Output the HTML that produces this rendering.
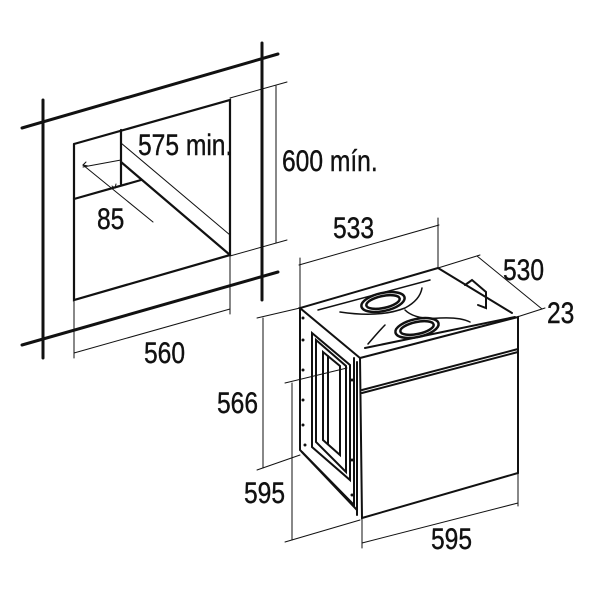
<!DOCTYPE html>
<html><head><meta charset="utf-8"><style>
html,body{margin:0;padding:0;background:#fff}
svg{display:block}
text{font-family:"Liberation Sans",sans-serif;font-size:30px;fill:#111;stroke:#111;stroke-width:0.4}
</style></head><body>
<svg width="600" height="600" viewBox="0 0 600 600" xmlns="http://www.w3.org/2000/svg">
<g stroke="#111" fill="none" stroke-linecap="round">
<g stroke-width="3">
<line x1="22" y1="128" x2="278" y2="54"/>
<line x1="22" y1="345" x2="278" y2="272"/>
<line x1="43" y1="100" x2="43" y2="358"/>
<line x1="262" y1="43" x2="262" y2="300"/>
</g>
<g stroke-width="2.2">
<polyline points="74,144 230,100 230,255 74,300 74,144"/>
<line x1="121" y1="130" x2="121" y2="184"/>
<line x1="74" y1="199" x2="141" y2="180"/>
<line x1="121" y1="162" x2="230" y2="255"/>
</g>
<g stroke-width="1">
<line x1="121" y1="143" x2="230" y2="235"/>
<line x1="83" y1="165" x2="153" y2="222"/>
<line x1="83" y1="167" x2="121" y2="160"/>
<line x1="230" y1="98" x2="287" y2="82"/>
<line x1="230" y1="256" x2="287" y2="240"/>
<line x1="276" y1="86" x2="276" y2="243"/>
<line x1="74" y1="300" x2="74" y2="358"/>
<line x1="230" y1="256" x2="230" y2="314"/>
<line x1="74" y1="353" x2="230" y2="309"/>
<polyline points="86,162 83,165 88,166"/>
<polyline points="112,186 115,188 116,184"/>
</g>
<g stroke-width="1">
<line x1="300" y1="258" x2="300" y2="308"/>
<line x1="438" y1="218" x2="438" y2="268"/>
<line x1="299" y1="265" x2="439" y2="225"/>
<line x1="438" y1="268" x2="480" y2="255"/>
<line x1="477" y1="256" x2="542" y2="309"/>
<line x1="517" y1="317" x2="545" y2="308"/>
<line x1="257" y1="318" x2="300" y2="308"/>
<line x1="263" y1="318" x2="263" y2="468"/>
<line x1="257" y1="470" x2="300" y2="455"/>
<line x1="285" y1="383" x2="347" y2="368"/>
<line x1="292" y1="383" x2="292" y2="540"/>
<line x1="285" y1="542" x2="360" y2="520"/>
<line x1="362" y1="518" x2="362" y2="548"/>
<line x1="518" y1="473" x2="518" y2="506"/>
<line x1="362" y1="543" x2="518" y2="503"/>
</g>
<g stroke-width="2">
<polygon points="360,358 518,317 518,473 362,518"/>
<line x1="362" y1="393" x2="518" y2="352"/>
<line x1="362" y1="390" x2="518" y2="349"/>
<polyline points="360,358 300,308 438,268 512,313"/>
<polyline points="300,308 300,450 357,510"/>
<line x1="357" y1="362" x2="357" y2="515"/>
<polyline points="354,358 354,505 302,452"/>
<polygon points="312,333 350,365 350,480 312,447"/>
<polygon points="316,340 346,366 346,472 316,442"/>
<polygon points="323,352 340,366 340,455 323,440"/>
<line x1="328" y1="356" x2="328" y2="444"/>
<polyline points="465,285 472,280 486,292 486,308 478,305"/>
<line x1="365" y1="348" x2="515" y2="317"/>
</g>
<g stroke-width="2.5">
<ellipse cx="383" cy="302" rx="22" ry="9" transform="rotate(-12 383 302)"/>
<ellipse cx="383" cy="302" rx="17" ry="6" transform="rotate(-12 383 302)"/>
<ellipse cx="417" cy="328" rx="22" ry="9" transform="rotate(-12 417 328)"/>
<ellipse cx="417" cy="328" rx="17" ry="6" transform="rotate(-12 417 328)"/>
</g>
<g stroke-width="1.5">
<path d="M340,312 Q380,318 405,308 Q420,300 422,288"/>
<path d="M405,310 Q415,320 440,318 Q460,317 470,322"/>
<path d="M368,344 Q380,330 385,325"/>
<path d="M318,310 L430,280"/>
</g>
<g fill="#111" stroke="none">
<circle cx="303" cy="318" r="1.5"/><circle cx="303" cy="340" r="1.5"/><circle cx="303" cy="370" r="1.5"/>
<circle cx="303" cy="400" r="1.5"/><circle cx="303" cy="425" r="1.5"/><circle cx="305" cy="445" r="1.5"/>
<circle cx="352" cy="380" r="1.5"/><circle cx="352" cy="460" r="1.5"/><circle cx="352" cy="495" r="1.5"/>
</g>
</g>
<text transform="translate(138,155) scale(0.82,1)">575 min.</text>
<text transform="translate(282,171) scale(0.82,1)">600 mín.</text>
<text transform="translate(97,229) scale(0.82,1)">85</text>
<text transform="translate(144,363) scale(0.82,1)">560</text>
<text transform="translate(333,238) scale(0.82,1)">533</text>
<text transform="translate(503,280) scale(0.82,1)">530</text>
<text transform="translate(547,323) scale(0.82,1)">23</text>
<text transform="translate(217,413) scale(0.82,1)">566</text>
<text transform="translate(244,503) scale(0.82,1)">595</text>
<text transform="translate(431,549) scale(0.82,1)">595</text>
</svg>
</body></html>
